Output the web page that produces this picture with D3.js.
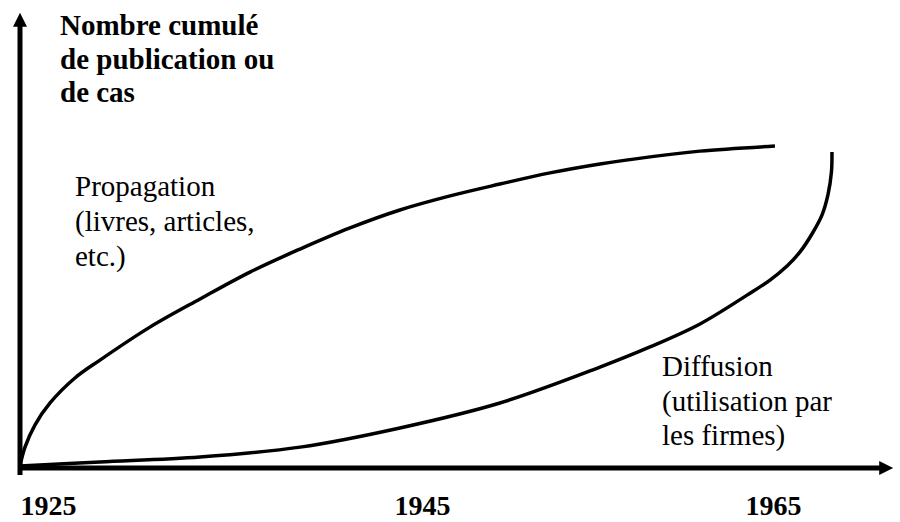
<!DOCTYPE html>
<html>
<head>
<meta charset="utf-8">
<script src="https://cdn.jsdelivr.net/npm/d3@7"></script>
<style>
  body { margin: 0; background: #fff; }
</style>
</head>
<body>
<script>
// years on the axis
var tickYears = [1925, 1945, 1965];

// propagation curve (years, relative cumulative count)
var propYears = [1923.5, 1923.77, 1924.3, 1925.11, 1926.44, 1927.78, 1930.45, 1933.13, 1935.8, 1938.48,
  1941.15, 1943.82, 1946.6, 1949.44, 1952.29, 1955.14, 1957.99, 1960.84, 1965.11];
var propValues = [0, 5.9, 12.8, 19.7, 27.5, 33.1, 43.4, 52.2, 60.6, 67.8,
  74.4, 80, 84.4, 88.1, 91.6, 94.4, 96.6, 98.4, 100];

// diffusion curve
var diffYears = [1923.5, 1927.78, 1933.13, 1938.48, 1943.82, 1949.44, 1955.14, 1957.99, 1960.84,
  1963.52, 1964.83, 1965.8, 1966.54, 1967.22, 1967.79, 1968.13, 1968.33, 1968.36];
var diffValues = [0, 1.25, 2.8, 5.9, 11.9, 19.7, 30.9, 37.2, 44.4,
  53.4, 58.1, 62.5, 66.9, 72.5, 78.4, 84.7, 91.9, 98.1];

var yTitle = ["Nombre cumulé", "de publication ou", "de cas"];
var propLabel = ["Propagation", "(livres, articles,", "etc.)"];
var diffLabel = ["Diffusion", "(utilisation par", "les firmes)"];

var width = 900, height = 522;
var serif = "'Liberation Serif', 'DejaVu Serif', serif";

var x = d3.scaleLinear()
  .domain([1925, 1945, 1965])
  .range([48, 422, 773]);
var y = d3.scaleLinear()
  .domain([0, 100])
  .range([466, 146]);

var svg = d3.select("body").append("svg")
  .attr("width", width)
  .attr("height", height);

// arrow heads
svg.append("defs").append("marker")
  .attr("id", "arrow")
  .attr("viewBox", "0 0 10 10")
  .attr("refX", 2).attr("refY", 5)
  .attr("markerUnits", "userSpaceOnUse")
  .attr("markerWidth", 16).attr("markerHeight", 14)
  .attr("orient", "auto")
  .append("path")
  .attr("d", "M0,0 L10,5 L0,10 Z")
  .attr("fill", "#000");

var x0 = x.invert(20), x1 = x.invert(882);
var yTop = y.invert(24);

// axes
svg.append("line")
  .attr("x1", x(x0)).attr("y1", y(0) + 9)
  .attr("x2", x(x0)).attr("y2", y(yTop))
  .attr("stroke", "#000").attr("stroke-width", 5)
  .attr("marker-end", "url(#arrow)");
svg.append("line")
  .attr("x1", x(x0) - 2).attr("y1", y(0) + 2)
  .attr("x2", x(x1)).attr("y2", y(0) + 2)
  .attr("stroke", "#000").attr("stroke-width", 5)
  .attr("marker-end", "url(#arrow)");

// tick labels
var xAxis = d3.axisBottom(x).tickValues(tickYears).tickSize(0).tickPadding(0).tickFormat(d3.format("d"));
var gx = svg.append("g")
  .attr("transform", "translate(0,515)")
  .call(xAxis)
  .attr("font-family", serif)
  .attr("font-size", 28)
  .attr("font-weight", "bold");
gx.select(".domain").remove();
gx.selectAll("text")
  .attr("dy", 0)
  .attr("y", 0)
  .attr("fill", "#000");

// curves
var line = d3.line()
  .x(function (d) { return x(d[0]); })
  .y(function (d) { return y(d[1]); })
  .curve(d3.curveCatmullRom.alpha(0.5));

var series = [
  d3.zip(propYears, propValues),
  d3.zip(diffYears, diffValues)
];
svg.selectAll(".curve")
  .data(series)
  .enter().append("path")
  .attr("class", "curve")
  .attr("d", line)
  .attr("fill", "none")
  .attr("stroke", "#000")
  .attr("stroke-width", 3.5);

// labels
function block(lines, left, top, step, bold) {
  svg.append("g")
    .attr("font-family", serif)
    .attr("font-size", 29)
    .attr("font-weight", bold ? "bold" : "normal")
    .selectAll("text")
    .data(lines)
    .enter().append("text")
    .attr("x", left)
    .attr("y", function (d, i) { return top + i * step; })
    .text(function (d) { return d; });
}
block(yTitle, 60, 35, 33.5, true);
block(propLabel, 75, 196, 35, false);
block(diffLabel, 662, 376, 34.5, false);
</script>
</body>
</html>
